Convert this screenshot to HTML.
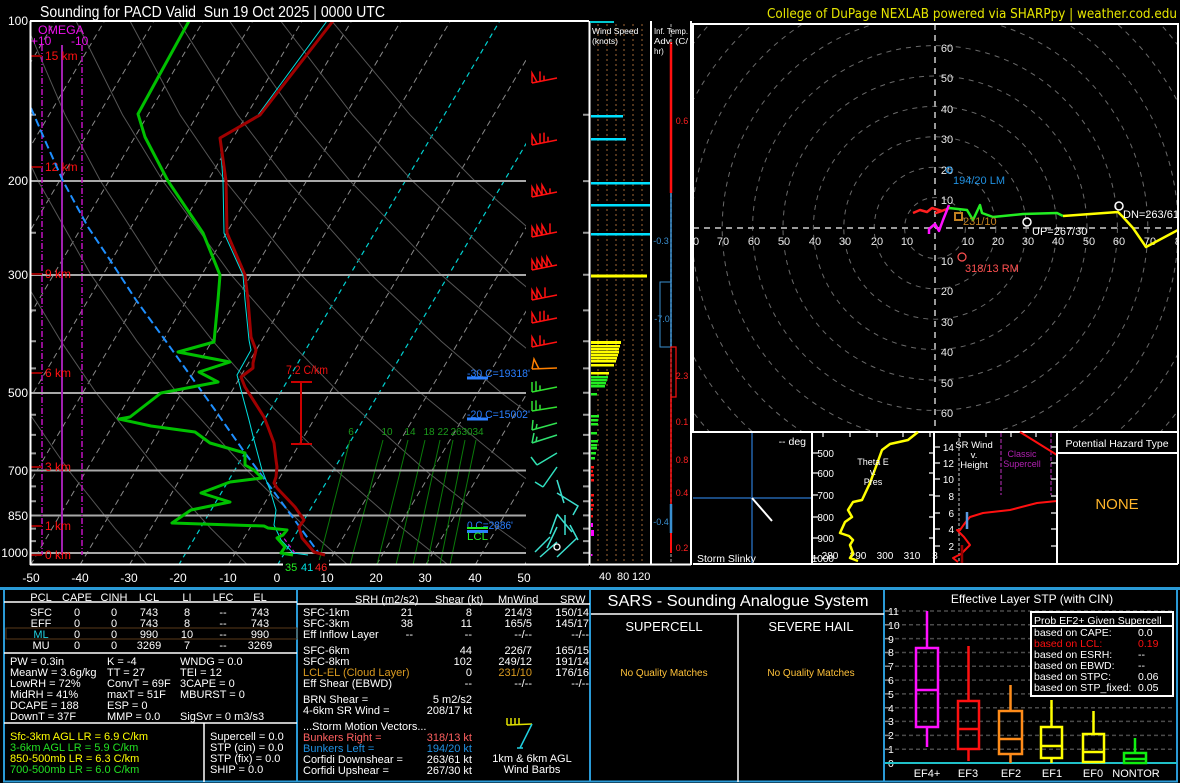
<!DOCTYPE html>
<html><head><meta charset="utf-8"><style>
html,body{margin:0;padding:0;background:#000;}
svg{display:block;font-family:"Liberation Sans",Arial,sans-serif;}
.pre{white-space:pre;}
</style></head><body>
<svg width="1180" height="783" viewBox="0 0 1180 783" xmlns="http://www.w3.org/2000/svg">
<rect width="1180" height="783" fill="#000"/>
<defs>
<clipPath id="sk"><rect x="30" y="21" width="496" height="544"/></clipPath>
<clipPath id="sk2"><rect x="30" y="21" width="559" height="544"/></clipPath>
<clipPath id="hd"><rect x="693" y="24" width="485" height="408"/></clipPath>
</defs>

<!-- Titles -->
<text x="40" y="17" fill="#fff" font-size="16" textLength="345" lengthAdjust="spacingAndGlyphs" class="pre">Sounding for PACD Valid  Sun 19 Oct 2025 | 0000 UTC</text>
<text x="767" y="18" fill="#e6e600" font-size="13" textLength="410" lengthAdjust="spacingAndGlyphs" font-family="DejaVu Sans, Liberation Sans, sans-serif">College of DuPage NEXLAB powered via SHARPpy | weather.cod.edu</text>

<!-- ============ SKEW-T background ============ -->
<g clip-path="url(#sk)">
 <g stroke="#8a8a8a" stroke-width="1" stroke-dasharray="6,4" fill="none">
  <line x1="-265.9" y1="565" x2="55.1" y2="21"/>
  <line x1="-216.5" y1="565" x2="104.5" y2="21"/>
  <line x1="-167.1" y1="565" x2="153.9" y2="21"/>
  <line x1="-117.7" y1="565" x2="203.3" y2="21"/>
  <line x1="-68.3" y1="565" x2="252.7" y2="21"/>
  <line x1="-18.9" y1="565" x2="302.1" y2="21"/>
  <line x1="30.5" y1="565" x2="351.5" y2="21"/>
  <line x1="79.9" y1="565" x2="400.9" y2="21"/>
  <line x1="129.3" y1="565" x2="450.3" y2="21"/>
  <line x1="228.1" y1="565" x2="549.1" y2="21"/>
  <line x1="326.9" y1="565" x2="647.9" y2="21"/>
  <line x1="376.3" y1="565" x2="697.3" y2="21"/>
  <line x1="425.7" y1="565" x2="746.7" y2="21"/>
  <line x1="475.1" y1="565" x2="796.1" y2="21"/>
  <line x1="524.5" y1="565" x2="845.5" y2="21"/>
 </g>
 <g stroke="#00d0d0" stroke-width="1.2" stroke-dasharray="5,4" fill="none">
  <line x1="178.7" y1="565" x2="499.7" y2="21"/>
  <line x1="277.5" y1="565" x2="598.5" y2="21"/>
 </g>
 <!-- dry adiabats every 20C -->
 <g stroke="#555" stroke-width="1" fill="none">
  <polyline points="146.6,564.2 115.1,528.6 68.7,470.5 15,392.8 -15.2,341.2"/>
  <polyline points="246.8,564.2 211,528.6 157.9,470.5 96.1,392.8 60.9,341.2 20.9,274.8 -24.2,181.1"/>
  <polyline points="347,564.2 306.9,528.6 247.2,470.5 177.1,392.8 137,341.2 91,274.8 38.2,181.1 7.5,114.7 -26.4,21"/>
  <polyline points="447.2,564.2 402.8,528.6 336.4,470.5 258.2,392.8 213,341.2 161,274.8 100.6,181.1 65,114.7 24.8,21"/>
  <polyline points="547.4,564.2 498.6,528.6 425.6,470.5 339.2,392.8 289.1,341.2 231.1,274.8 163,181.1 122.5,114.7 76,21"/>
  <polyline points="647.6,564.2 594.5,528.6 514.8,470.5 420.3,392.8 365.1,341.2 301.1,274.8 225.4,181.1 180,114.7 130,21"/>
  <polyline points="747.8,564.2 690.4,528.6 604,470.5 501.3,392.8 441.2,341.2 371.2,274.8 287.8,181.1 237.5,114.7 178.3,21"/>
  <polyline points="848,564.2 786.3,528.6 693.2,470.5 582.3,392.8 517.3,341.2 441.2,274.8 350.2,181.1 294.9,114.7 229.5,21"/>
  <polyline points="948.2,564.2 882.1,528.6 782.4,470.5 663.4,392.8 593.3,341.2 511.3,274.8 412.6,181.1 352.4,114.7 280.7,21"/>
  <polyline points="1048.4,564.2 978,528.6 871.6,470.5 744.4,392.8 669.4,341.2 581.3,274.8 475,181.1 409.9,114.7 331.8,21"/>
 </g>
 <!-- mixing ratio -->
 <g stroke="#0a7a0a" stroke-width="1" fill="none">
  <line x1="318" y1="565" x2="350" y2="440"/>
  <line x1="350" y1="565" x2="383" y2="440"/>
  <line x1="377" y1="565" x2="408" y2="440"/>
  <line x1="396" y1="565" x2="425" y2="440"/>
  <line x1="413" y1="565" x2="440" y2="440"/>
  <line x1="427" y1="565" x2="453" y2="440"/>
  <line x1="440" y1="565" x2="465" y2="440"/>
  <line x1="450" y1="565" x2="476" y2="440"/>
 </g>
 <g fill="#1a9a1a" font-size="10" text-anchor="middle">
  <text x="351" y="435">6</text><text x="387" y="435">10</text><text x="410" y="435">14</text><text x="429" y="435">18</text>
  <text x="443" y="435">22</text><text x="456" y="435">26</text><text x="467" y="435">30</text><text x="478" y="435">34</text>
 </g>
 <!-- pressure lines -->
 <g stroke="#a8a8a8" stroke-width="2">
  <line x1="30" y1="181" x2="526" y2="181"/>
  <line x1="30" y1="275" x2="526" y2="275"/>
  <line x1="30" y1="393" x2="526" y2="393"/>
  <line x1="30" y1="470.5" x2="526" y2="470.5"/>
  <line x1="30" y1="515.5" x2="526" y2="515.5"/>
  <line x1="30" y1="553" x2="526" y2="553"/>
 </g>
</g>

<!-- ticks on skew-T sides -->
<g stroke="#999" stroke-width="2">
 <path d="M31,114.7h5M31,232.7h5M31,310.4h5M31,341.2h5M31,368.4h5M31,414.8h5M31,434.9h5M31,453.4h5M31,486.4h5M31,501.3h5M31,528.6h5M31,541.1h5"/>
 <path d="M583,114.7h6M583,181.1h6M583,232.7h6M583,274.8h6M583,310.4h6M583,341.2h6M583,368.4h6M583,392.8h6M583,414.8h6M583,434.9h6M583,453.4h6M583,470.5h6M583,486.4h6M583,501.3h6M583,515.4h6M583,528.6h6M583,541.1h6M583,552.9h6"/>
</g>

<!-- OMEGA -->
<g>
 <line x1="62" y1="45" x2="62" y2="555" stroke="#a020b0" stroke-width="2"/>
 <line x1="42" y1="45" x2="42" y2="555" stroke="#c010c0" stroke-width="1.5" stroke-dasharray="6,2,1,2"/>
 <line x1="82" y1="45" x2="82" y2="555" stroke="#c010c0" stroke-width="1.5" stroke-dasharray="6,2,1,2"/>
 <text x="38" y="34" fill="#ee10ee" font-size="12" textLength="46" lengthAdjust="spacingAndGlyphs">OMEGA</text>
 <text x="31" y="45" fill="#ee10ee" font-size="12">+10</text>
 <text x="71" y="45" fill="#ee10ee" font-size="12">-10</text>
</g>

<!-- height labels -->
<g stroke="#990000" stroke-width="2">
 <path d="M31,56h11M31,167h11M31,274h11M31,373h11M31,467h11M31,526h11M31,555h11"/>
</g>
<g fill="#ff1010" font-size="12">
 <text x="45" y="60">15 km</text><text x="45" y="171">12 km</text><text x="45" y="278">9 km</text>
 <text x="45" y="377">6 km</text><text x="45" y="471">3 km</text><text x="45" y="530">1 km</text><text x="45" y="559">0 km</text>
</g>

<!-- profiles -->
<g clip-path="url(#sk2)" fill="none" stroke-linejoin="round">
 <polyline stroke="#1e8fff" stroke-width="2" stroke-dasharray="8,4" points="31,108 47,145 63,181 88,227 112,263 136,300 165,340 190,375 215,410 245,453 280,500 318,552"/>
 <polyline stroke="#dd10dd" stroke-width="1.2" stroke-dasharray="4,3" points="280,533 295,553"/>
 <polyline stroke="#00e0e0" stroke-width="1" points="327,21 258,115 220,138 223,181 224,233 243,275 245,300 249,340 251,350 237,375 241,390 249,420 254,440 262,470 270,490 276,510 274,525 281,540 293,553 308,555"/>
 <polyline stroke="#00c000" stroke-width="3" points="189,21 138,114 145,137 168,181 203,233 220,275 218,300 214,342 178,352 230,362 199,372 218,382 161,393 130,417 119,419 151,426 195,432 210,443 245,453 245,465 254,470 262,478 230,482 201,493 230,502 191,510 172,523 264,526 268,528 287,530 283,535 277,538 285,547 281,553 293,555"/>
 <polyline stroke="#a00000" stroke-width="3" points="333,21 260,115 220,138 226,181 227,233 245,275 248,300 251,337 256,350 253,363 253,368 241,377 245,387 264,417 268,427 274,443 276,460 277,467 276,477 274,483 277,488 295,507 304,520 299,527 302,538 314,552 325,555"/>
</g>

<!-- lapse rate -->
<g stroke="#cc0000" stroke-width="2">
 <line x1="301" y1="382" x2="301" y2="444"/>
 <line x1="291" y1="382" x2="312" y2="382"/>
 <line x1="291" y1="444" x2="312" y2="444"/>
</g>
<text x="286" y="374" fill="#ee1010" font-size="12" textLength="42" lengthAdjust="spacingAndGlyphs">7.2 C/km</text>

<!-- freezing level labels -->
<g fill="#2a7fff" font-size="11">
 <text x="467" y="377" textLength="63" lengthAdjust="spacingAndGlyphs">-30 C=19318'</text>
 <text x="467" y="418" textLength="63" lengthAdjust="spacingAndGlyphs">-20 C=15002'</text>
 <text x="467" y="529" textLength="46" lengthAdjust="spacingAndGlyphs">0 C=2886'</text>
</g>
<g stroke-width="3">
 <line x1="467" y1="378" x2="488" y2="378" stroke="#2a7fff"/>
 <line x1="467" y1="419" x2="488" y2="419" stroke="#2a7fff"/>
 <line x1="467" y1="528" x2="488" y2="528" stroke="#22ee22" stroke-width="2"/>
 <line x1="467" y1="531.5" x2="488" y2="531.5" stroke="#2a7fff"/>
</g>
<text x="467" y="540" fill="#22ee22" font-size="11" textLength="21" lengthAdjust="spacingAndGlyphs">LCL</text>

<!-- wind barbs skew-T -->
<g fill="none" stroke-width="1.5" stroke-linejoin="miter">
 <path stroke="#ff1010" d="M557,78L532,83 M532,83L532,73L537,82 M540,81.4L540,71.4 M544,80.6L544,75.6"/>
 <path stroke="#ff1010" d="M557,140L532,145 M532,145L532,135L537,144 M540,143.4L540,133.4 M544,142.6L544,132.6 M548,141.8L548,136.8"/>
 <path stroke="#ff1010" d="M557,192L532,197 M532,197L532,187L537,196 M537,196L537,186L542,195 M542,195L542,185L547,194 M550,193.4L550,188.4"/>
 <path stroke="#ff1010" d="M557,232L532,237 M532,237L532,227L537,236 M537,236L537,226L542,235 M542,235L542,225L547,234 M550,233.4L550,223.4"/>
 <path stroke="#ff1010" d="M557,265L532,270 M532,270L532,260L537,269 M537,269L537,259L542,268 M542,268L542,258L547,267 M547,267L547,257L552,266"/>
 <path stroke="#ff1010" d="M557,295L532,300 M532,300L532,290L537,299 M537,299L537,289L542,298 M545,297.4L545,287.4"/>
 <path stroke="#ff1010" d="M557,318L532,323 M532,323L532,313L537,322 M540,321.4L540,311.4 M544,320.6L544,310.6 M548,319.8L548,314.8"/>
 <path stroke="#ff1010" d="M557,342L532,347 M532,347L532,337L537,346 M540,345.4L540,335.4 M544,344.6L544,339.6"/>
 <path stroke="#ff8000" d="M557,368L532,369 M532,369L534,359L539,369"/>
 <path stroke="#30e030" d="M557,387L532,392 M532,392L532,382 M536,391.2L536,381.2 M540,390.4L540,385.4"/>
 <path stroke="#30e030" d="M557,407L532,411 M532,411L532,401 M536,410.4L536,400.4 M540,409.7L540,404.7"/>
 <path stroke="#30e050" d="M557,423L532,430 M532,430L533,420 M536,429L537,424"/>
 <path stroke="#30e070" d="M557,435L532,443 M532,443L534,433 M536,441.7L537,436.7"/>
 <path stroke="#30e0b0" d="M557,453L537,465 M537,465L531,457"/>
 <path stroke="#30e0c0" d="M557,467L543,487 M543,487L535,482"/>
 <path stroke="#3ce0d0" d="M557,480L564,503 M557,493L578,506L573,515 M557,514L572,532 M557,515L550,534 M565,515L565,535 M557,527L547,548 M577,538L557,557 M550,537L535,552 M557,542L540,557 M570,525L578,540"/>
</g>
<circle cx="557" cy="547" r="3" fill="none" stroke="#fff" stroke-width="1.3"/>

<!-- skew-T border -->
<g stroke="#fff" stroke-width="2" fill="none">
 <line x1="30" y1="21" x2="589" y2="21"/>
 <line x1="30.5" y1="21" x2="30.5" y2="565"/>
 <line x1="30" y1="564.5" x2="589" y2="564.5"/>
 <line x1="589.5" y1="21" x2="589.5" y2="565"/>
</g>
<!-- pressure labels -->
<g fill="#fff" font-size="12" text-anchor="end">
 <text x="28" y="25">100</text><text x="28" y="185">200</text><text x="28" y="279">300</text>
 <text x="28" y="397">500</text><text x="28" y="475">700</text><text x="28" y="520">850</text><text x="28" y="557">1000</text>
</g>
<!-- temperature labels -->
<g fill="#fff" font-size="12" text-anchor="middle">
 <text x="31" y="582">-50</text><text x="80" y="582">-40</text><text x="129" y="582">-30</text><text x="178" y="582">-20</text>
 <text x="228" y="582">-10</text><text x="277" y="582">0</text><text x="327" y="582">10</text><text x="376" y="582">20</text>
 <text x="425" y="582">30</text><text x="475" y="582">40</text><text x="524" y="582">50</text>
</g>
<rect x="283" y="560" width="46" height="12" fill="#000"/>
<text x="285" y="571" fill="#22ee22" font-size="11">35</text>
<text x="301" y="571" fill="#00e0e0" font-size="11">41</text>
<text x="315" y="571" fill="#ff2020" font-size="11">46</text>

<!-- ============ Wind speed panel ============ -->
<g stroke="#6b4423" stroke-width="1.5" stroke-dasharray="2,3">
 <line x1="598" y1="24" x2="598" y2="563"/><line x1="607" y1="24" x2="607" y2="563"/>
 <line x1="616" y1="24" x2="616" y2="563"/><line x1="624" y1="24" x2="624" y2="563"/>
 <line x1="633" y1="24" x2="633" y2="563"/><line x1="642" y1="24" x2="642" y2="563"/>
</g>
<line x1="590" y1="22" x2="614" y2="22" stroke="#00c8d0" stroke-width="2"/>
<text x="592" y="34" fill="#fff" font-size="8.5">Wind Speed</text>
<text x="592" y="44" fill="#fff" font-size="8.5">(knots)</text>
<g>
 <rect x="591" y="115" width="32" height="2.5" fill="#00e0ff"/>
 <rect x="591" y="138" width="35" height="2.5" fill="#00e0ff"/>
 <rect x="591" y="182" width="60" height="2.5" fill="#00e0ff"/>
 <rect x="591" y="204" width="60" height="2.5" fill="#00e0ff"/>
 <rect x="591" y="233" width="60" height="2.5" fill="#00e0ff"/>
 <rect x="591" y="274.5" width="56" height="3" fill="#ffff00"/>
 <g fill="#ffff00">
  <rect x="591" y="341" width="30" height="3"/><rect x="591" y="345" width="29" height="2.5"/>
  <rect x="591" y="348" width="28" height="2.5"/><rect x="591" y="351" width="28" height="2.5"/>
  <rect x="591" y="354" width="27" height="2.5"/><rect x="591" y="357" width="26" height="2.5"/>
  <rect x="591" y="360" width="25" height="2.5"/><rect x="591" y="364" width="23" height="2.5"/>
  <rect x="591" y="372" width="18" height="2.5"/>
 </g>
 <g fill="#22ee22">
  <rect x="591" y="376" width="17" height="2.5"/><rect x="591" y="379" width="16" height="2.5"/>
  <rect x="591" y="382" width="15" height="2.5"/><rect x="591" y="385" width="14" height="2.5"/>
  <rect x="591" y="393" width="6" height="2.5"/>
  <rect x="591" y="415" width="8" height="2.5"/><rect x="591" y="419" width="7" height="2.5"/>
  <rect x="591" y="423" width="7" height="2.5"/><rect x="591" y="432" width="6" height="2.5"/>
  <rect x="591" y="440" width="7" height="2.5"/><rect x="591" y="444" width="6" height="2.5"/>
  <rect x="591" y="447" width="6" height="2.5"/><rect x="591" y="452" width="5" height="2.5"/>
  <rect x="591" y="457" width="4" height="2.5"/>
 </g>
 <g fill="#ff1010">
  <rect x="591" y="466" width="3" height="2.5"/><rect x="591" y="470" width="2" height="2.5"/>
  <rect x="591" y="474" width="3" height="2.5"/><rect x="591" y="479" width="3" height="2.5"/>
  <rect x="591" y="494" width="3" height="2.5"/><rect x="591" y="499" width="2" height="2.5"/>
  <rect x="591" y="504" width="3" height="2.5"/><rect x="591" y="508" width="2" height="2.5"/>
  <rect x="591" y="515" width="2" height="2.5"/>
 </g>
 <rect x="591" y="523" width="2" height="4" fill="#ff00ff"/>
 <rect x="591" y="530" width="3" height="6" fill="#ff00ff"/>
 <rect x="591" y="554" width="1.5" height="2" fill="#ff00ff"/>
</g>
<g fill="#fff" font-size="11">
 <text x="599" y="580">40</text><text x="617" y="580">80</text><text x="632" y="580">120</text>
</g>

<!-- ============ Inf temp adv ============ -->
<line x1="671" y1="24" x2="671" y2="564" stroke="#777" stroke-width="1.5" stroke-dasharray="3,2"/>
<line x1="671" y1="42" x2="671" y2="193" stroke="#ff1010" stroke-width="2.5"/>
<line x1="671" y1="193" x2="671" y2="347" stroke="#3a8fd0" stroke-width="1.5"/>
<rect x="660" y="282" width="11" height="65" fill="none" stroke="#3a8fd0" stroke-width="1"/>
<rect x="671" y="347" width="5" height="50" fill="none" stroke="#ff1010" stroke-width="1.2"/>
<line x1="671" y1="397" x2="671" y2="504" stroke="#ff1010" stroke-width="1.5"/>
<line x1="671" y1="504" x2="671" y2="533" stroke="#3a8fd0" stroke-width="2.5"/>
<line x1="671" y1="533" x2="671" y2="553" stroke="#ff1010" stroke-width="2"/>
<text x="654" y="34" fill="#fff" font-size="8" textLength="34" lengthAdjust="spacingAndGlyphs">Inf. Temp.</text>
<text x="654" y="44" fill="#fff" font-size="8" textLength="34" lengthAdjust="spacingAndGlyphs">Adv. (C/</text>
<text x="654" y="54" fill="#fff" font-size="8">hr)</text>
<g font-size="9" text-anchor="middle">
 <text x="682" y="124" fill="#ff2020">0.6</text>
 <text x="661" y="244" fill="#3a8fd0">-0.3</text>
 <text x="662" y="322" fill="#3a8fd0">-7.0</text>
 <text x="682" y="379" fill="#ff2020">2.3</text>
 <text x="682" y="425" fill="#ff2020">0.1</text>
 <text x="682" y="463" fill="#ff2020">0.8</text>
 <text x="682" y="496" fill="#ff2020">0.4</text>
 <text x="661" y="525" fill="#3a8fd0">-0.4</text>
 <text x="682" y="551" fill="#ff2020">0.2</text>
</g>
<g stroke="#fff" stroke-width="2">
 <line x1="651" y1="21" x2="651" y2="565"/>
 <line x1="691" y1="21" x2="691" y2="565"/>
 <line x1="590" y1="564.5" x2="691" y2="564.5"/>
</g>

<!-- ============ Hodograph ============ -->
<g clip-path="url(#hd)">
 <g fill="none" stroke="#6a6a6a" stroke-width="1" stroke-dasharray="5,5">
  <circle cx="935" cy="228" r="30.4"/><circle cx="935" cy="228" r="60.8"/><circle cx="935" cy="228" r="91.2"/>
  <circle cx="935" cy="228" r="121.6"/><circle cx="935" cy="228" r="152"/><circle cx="935" cy="228" r="182.4"/>
  <circle cx="935" cy="228" r="212.8"/><circle cx="935" cy="228" r="243.2"/><circle cx="935" cy="228" r="273.6"/>
  <circle cx="935" cy="228" r="304"/><circle cx="935" cy="228" r="334.4"/>
 </g>
 <g stroke="#9a9a9a" stroke-width="2" stroke-dasharray="6,5">
  <line x1="935" y1="24" x2="935" y2="432"/>
  <line x1="693" y1="228" x2="1178" y2="228"/>
 </g>
 <g fill="#e8e8e8" font-size="11" text-anchor="middle">
  <text x="947" y="52">60</text><text x="947" y="82">50</text><text x="947" y="113">40</text>
  <text x="947" y="143">30</text><text x="947" y="174">20</text><text x="947" y="204">10</text>
  <text x="947" y="265">10</text><text x="947" y="295">20</text><text x="947" y="326">30</text>
  <text x="947" y="356">40</text><text x="947" y="387">50</text><text x="947" y="417">60</text>
  <text x="693" y="245">80</text><text x="723" y="245">70</text><text x="754" y="245">60</text><text x="784" y="245">50</text>
  <text x="815" y="245">40</text><text x="845" y="245">30</text><text x="877" y="245">20</text><text x="907" y="245">10</text>
  <text x="968" y="245">10</text><text x="998" y="245">20</text><text x="1028" y="245">30</text><text x="1058" y="245">40</text>
  <text x="1089" y="245">50</text><text x="1119" y="245">60</text><text x="1150" y="245">70</text><text x="1181" y="245">80</text>
 </g>
 <g fill="none" stroke-width="2.5" stroke-linejoin="round">
  <polyline stroke="#ff2020" points="913,213 920,210 927,212 932,208 942,211 936,213 950,208"/>
  <polyline stroke="#ff10ff" points="949,205 943,220 939,231 935,224 929,229 929,234"/>
  <polyline stroke="#22ee22" points="949,208 967,210 973,220 980,205 982,213 993,217 1023,214 1057,213 1063,216"/>
  <polyline stroke="#ffff00" points="1063,216 1118,212 1123,217 1133,228 1146,247 1178,230"/>
 </g>
 <circle cx="1119" cy="206" r="4" fill="none" stroke="#fff" stroke-width="1.5"/>
 <circle cx="1027" cy="222" r="4" fill="none" stroke="#fff" stroke-width="1.5"/>
 <circle cx="949" cy="170" r="3" fill="none" stroke="#2090e0" stroke-width="1.2"/>
 <circle cx="962" cy="257" r="4" fill="none" stroke="#ff5050" stroke-width="1.2"/>
 <rect x="955" y="213" width="7" height="7" fill="none" stroke="#c08020" stroke-width="2"/>
 <g font-size="11">
  <text x="1123" y="218" fill="#fff">DN=263/61</text>
  <text x="1032" y="235" fill="#fff">UP=267/30</text>
  <text x="963" y="225" fill="#c08020">231/10</text>
  <text x="953" y="184" fill="#2090e0">194/20 LM</text>
  <text x="965" y="272" fill="#ff5050">318/13 RM</text>
 </g>
</g>
<rect x="693" y="24" width="485" height="408" fill="none" stroke="#fff" stroke-width="2"/>

<!-- ============ small panels ============ -->
<!-- storm slinky -->
<line x1="752" y1="433" x2="752" y2="563" stroke="#1a4a80" stroke-width="2"/>
<line x1="693" y1="498" x2="812" y2="498" stroke="#1a4a80" stroke-width="2"/>
<line x1="752" y1="498" x2="772" y2="521" stroke="#fff" stroke-width="2"/>
<text x="806" y="445" fill="#fff" font-size="10.5" text-anchor="end">-- deg</text>
<text x="697" y="562" fill="#fff" font-size="10.5">Storm Slinky</text>

<!-- theta-e -->
<g stroke="#999" stroke-width="2">
 <path d="M813,453h5M813,473h5M813,495h5M813,517h5M813,538h5M813,558h5"/>
 <path d="M929,453h5M929,473h5M929,495h5M929,517h5M929,538h5"/>
 <path d="M823,433v4M850,433v4M877,433v4M903,433v4M930,433v4"/>
</g>
<g fill="#fff" font-size="10" text-anchor="end">
 <text x="834" y="457">500</text><text x="834" y="477">600</text><text x="834" y="499">700</text>
 <text x="834" y="521">800</text><text x="834" y="542">900</text><text x="834" y="562">1000</text>
</g>
<g fill="#fff" font-size="10" text-anchor="middle">
 <text x="830" y="559">280</text><text x="858" y="559">290</text><text x="885" y="559">300</text><text x="912" y="559">310</text><text x="935" y="559">3</text>
</g>
<polyline fill="none" stroke="#ffff00" stroke-width="2.5" stroke-linejoin="round" points="918,432 908,440 890,444 882,450 870,483 862,500 853,502 848,510 852,517 845,522 840,533 849,536 853,540 850,545 853,553 850,558 858,561"/>
<g fill="#fff" font-size="9" text-anchor="middle">
 <text x="873" y="465">Theta E</text><text x="873" y="475">v.</text><text x="873" y="485">Pres</text>
</g>

<!-- SR wind -->
<line x1="959" y1="433" x2="959" y2="563" stroke="#888" stroke-width="1.5" stroke-dasharray="3,2"/>
<line x1="1001" y1="433" x2="1001" y2="495" stroke="#802080" stroke-width="1.5" stroke-dasharray="4,2"/>
<line x1="1051" y1="433" x2="1051" y2="495" stroke="#802080" stroke-width="1.5" stroke-dasharray="4,2"/>
<g stroke="#999" stroke-width="2">
 <path d="M935,447h5M935,463h5M935,479h5M935,496h5M935,513h5M935,529h5M935,546h5"/>
 <path d="M1051,447h6M1051,463h6M1051,479h6M1051,496h6M1051,513h6M1051,529h6M1051,546h6"/>
 <path d="M960,433v4M986,433v4M1011,433v4M1036,433v4"/>
</g>
<g fill="#fff" font-size="10" text-anchor="end">
 <text x="954" y="451">14</text><text x="954" y="467">12</text><text x="954" y="483">10</text>
 <text x="954" y="500">8</text><text x="954" y="517">6</text><text x="954" y="533">4</text><text x="954" y="550">2</text>
</g>
<g fill="#fff" font-size="9.5" text-anchor="middle">
 <text x="974" y="448">SR Wind</text><text x="974" y="458">v.</text><text x="974" y="468">Height</text>
</g>
<g fill="#b020b0" font-size="9" text-anchor="middle">
 <text x="1022" y="457">Classic</text><text x="1022" y="467">Supercell</text>
</g>
<line x1="1020" y1="432" x2="1057" y2="455" stroke="#ff1010" stroke-width="2"/>
<polyline fill="none" stroke="#ff1010" stroke-width="2" stroke-linejoin="round" points="1057,501 1037,503 1010,510 983,513 970,517 965,523 960,530 957,530 964,537 970,545 965,550 961,554 953,558 958,562"/>
<line x1="967" y1="512" x2="967" y2="529" stroke="#5a9ae0" stroke-width="2.5"/>
<line x1="962" y1="545" x2="962" y2="564" stroke="#990000" stroke-width="2.5"/>

<!-- hazard -->
<text x="1117" y="447" fill="#fff" font-size="10.5" text-anchor="middle">Potential Hazard Type</text>
<line x1="1058" y1="453" x2="1178" y2="453" stroke="#fff" stroke-width="2"/>
<text x="1117" y="509" fill="#ffb52a" font-size="15" text-anchor="middle">NONE</text>

<g stroke="#fff" stroke-width="2" fill="none">
 <line x1="693" y1="564" x2="1178" y2="564"/>
 <line x1="812" y1="432" x2="812" y2="564"/>
 <line x1="934" y1="432" x2="934" y2="564"/>
 <line x1="1057" y1="432" x2="1057" y2="564"/>
 <line x1="1178" y1="432" x2="1178" y2="564"/>
</g>

<!-- ============ bottom panels ============ -->
<g stroke="#2a9ad6" fill="none">
 <line x1="0" y1="588.5" x2="1180" y2="588.5" stroke-width="3"/>
 <line x1="4" y1="588" x2="4" y2="782" stroke-width="2"/>
 <line x1="297" y1="588" x2="297" y2="782" stroke-width="2"/>
 <line x1="590" y1="588" x2="590" y2="782" stroke-width="2"/>
 <line x1="884" y1="588" x2="884" y2="782" stroke-width="2"/>
 <line x1="1177" y1="588" x2="1177" y2="782" stroke-width="2"/>
 <line x1="3" y1="781.5" x2="1178" y2="781.5" stroke-width="2"/>
</g>

<!-- left table -->
<g fill="#fff" font-size="11" text-anchor="middle">
 <text x="41" y="601">PCL</text><text x="77" y="601">CAPE</text><text x="114" y="601">CINH</text><text x="149" y="601">LCL</text>
 <text x="187" y="601">LI</text><text x="223" y="601">LFC</text><text x="260" y="601">EL</text>
 <text x="41" y="616">SFC</text><text x="77" y="616">0</text><text x="114" y="616">0</text><text x="149" y="616">743</text><text x="187" y="616">8</text><text x="223" y="616">--</text><text x="260" y="616">743</text>
 <text x="41" y="627">EFF</text><text x="77" y="627">0</text><text x="114" y="627">0</text><text x="149" y="627">743</text><text x="187" y="627">8</text><text x="223" y="627">--</text><text x="260" y="627">743</text>
 <text x="41" y="638" fill="#20d0e0">ML</text><text x="77" y="638">0</text><text x="114" y="638">0</text><text x="149" y="638">990</text><text x="187" y="638">10</text><text x="223" y="638">--</text><text x="260" y="638">990</text>
 <text x="41" y="649">MU</text><text x="77" y="649">0</text><text x="114" y="649">0</text><text x="149" y="649">3269</text><text x="187" y="649">7</text><text x="223" y="649">--</text><text x="260" y="649">3269</text>
</g>
<rect x="6" y="628" width="291" height="11" fill="none" stroke="#5a3a1a" stroke-width="1"/>
<g stroke="#fff" stroke-width="1.5">
 <line x1="4" y1="602" x2="297" y2="602"/>
 <line x1="4" y1="653" x2="297" y2="653"/>
 <line x1="4" y1="723" x2="297" y2="723"/>
 <line x1="204" y1="723" x2="204" y2="782"/>
</g>
<g fill="#fff" font-size="11">
 <text x="10" y="665">PW = 0.3in</text><text x="10" y="676">MeanW = 3.6g/kg</text><text x="10" y="687">LowRH = 72%</text>
 <text x="10" y="698">MidRH = 41%</text><text x="10" y="709">DCAPE = 188</text><text x="10" y="720">DownT = 37F</text>
 <text x="107" y="665">K = -4</text><text x="107" y="676">TT = 27</text><text x="107" y="687">ConvT = 69F</text>
 <text x="107" y="698">maxT = 51F</text><text x="107" y="709">ESP = 0</text><text x="107" y="720">MMP = 0.0</text>
 <text x="180" y="665">WNDG = 0.0</text><text x="180" y="676">TEI = 12</text><text x="180" y="687">3CAPE = 0</text>
 <text x="180" y="698">MBURST = 0</text><text x="180" y="720">SigSvr = 0 m3/s3</text>
 <text x="210" y="740">Supercell = 0.0</text><text x="210" y="751">STP (cin) = 0.0</text>
 <text x="210" y="762">STP (fix) = 0.0</text><text x="210" y="773">SHIP = 0.0</text>
</g>
<g font-size="11">
 <text x="10" y="740" fill="#ffff00">Sfc-3km AGL LR = 6.9 C/km</text>
 <text x="10" y="751" fill="#22e022">3-6km AGL LR = 5.9 C/km</text>
 <text x="10" y="762" fill="#ffff00">850-500mb LR = 6.3 C/km</text>
 <text x="10" y="773" fill="#22e022">700-500mb LR = 6.0 C/km</text>
</g>

<!-- middle table -->
<line x1="297" y1="604" x2="590" y2="604" stroke="#fff" stroke-width="1.5"/>
<g fill="#fff" font-size="11">
 <text x="355" y="603">SRH (m2/s2)</text><text x="435" y="603">Shear (kt)</text><text x="498" y="603">MnWind</text><text x="560" y="603">SRW</text>
 <text x="303" y="616">SFC-1km</text><text x="303" y="627">SFC-3km</text><text x="303" y="638">Eff Inflow Layer</text>
 <text x="303" y="654">SFC-6km</text><text x="303" y="665">SFC-8km</text>
 <text x="303" y="676" fill="#d99a20">LCL-EL (Cloud Layer)</text>
 <text x="303" y="687">Eff Shear (EBWD)</text>
 <text x="303" y="703">BRN Shear =</text><text x="303" y="714">4-6km SR Wind =</text>
 <text x="303" y="730">...Storm Motion Vectors...</text>
 <text x="303" y="741" fill="#ff6060">Bunkers Right =</text>
 <text x="303" y="752" fill="#2090e0">Bunkers Left =</text>
 <text x="303" y="763">Corfidi Downshear =</text>
 <text x="303" y="774">Corfidi Upshear =</text>
</g>
<g fill="#fff" font-size="11" text-anchor="end">
 <text x="413" y="616">21</text><text x="472" y="616">8</text><text x="532" y="616">214/3</text><text x="589" y="616">150/14</text>
 <text x="413" y="627">38</text><text x="472" y="627">11</text><text x="532" y="627">165/5</text><text x="589" y="627">145/17</text>
 <text x="413" y="638">--</text><text x="472" y="638">--</text><text x="532" y="638">--/--</text><text x="589" y="638">--/--</text>
 <text x="472" y="654">44</text><text x="532" y="654">226/7</text><text x="589" y="654">165/15</text>
 <text x="472" y="665">102</text><text x="532" y="665">249/12</text><text x="589" y="665">191/14</text>
 <text x="472" y="676">0</text><text x="532" y="676" fill="#d99a20">231/10</text><text x="589" y="676">176/16</text>
 <text x="472" y="687">--</text><text x="532" y="687">--/--</text><text x="589" y="687">--/--</text>
 <text x="472" y="703">5 m2/s2</text><text x="472" y="714">208/17 kt</text>
 <text x="472" y="741" fill="#ff6060">318/13 kt</text>
 <text x="472" y="752" fill="#2090e0">194/20 kt</text>
 <text x="472" y="763">263/61 kt</text>
 <text x="472" y="774">267/30 kt</text>
</g>
<g fill="none" stroke-width="1.5">
 <path stroke="#e0e000" d="M507,725L532,724 M507,718L507,725 M511,718L511,725 M515,718L515,725 M519,718L519,725"/>
 <path stroke="#20d0e0" d="M532,724L520,748 M517,748L523,748"/>
</g>
<g fill="#fff" font-size="11" text-anchor="middle">
 <text x="532" y="762">1km &amp; 6km AGL</text><text x="532" y="773">Wind Barbs</text>
</g>

<!-- SARS -->
<text x="738" y="606" fill="#fff" font-size="16" text-anchor="middle" textLength="261" lengthAdjust="spacingAndGlyphs">SARS - Sounding Analogue System</text>
<line x1="591" y1="614" x2="884" y2="614" stroke="#fff" stroke-width="1.5"/>
<line x1="738" y1="614" x2="738" y2="782" stroke="#fff" stroke-width="1.5"/>
<text x="664" y="631" fill="#fff" font-size="13" text-anchor="middle">SUPERCELL</text>
<text x="811" y="631" fill="#fff" font-size="13" text-anchor="middle">SEVERE HAIL</text>
<text x="664" y="676" fill="#ffc23a" font-size="10" text-anchor="middle">No Quality Matches</text>
<text x="811" y="676" fill="#ffc23a" font-size="10" text-anchor="middle">No Quality Matches</text>

<!-- STP -->
<text x="1032" y="603" fill="#fff" font-size="12" text-anchor="middle">Effective Layer STP (with CIN)</text>
<g stroke="#4a4a4a" stroke-width="1.5" stroke-dasharray="4,3">
 <path d="M895,611H1175M895,624.8H1175M895,638.6H1175M895,652.5H1175M895,666.3H1175M895,680.1H1175M895,693.9H1175M895,707.7H1175M895,721.4H1175M895,735.4H1175M895,749.2H1175"/>
</g>
<g stroke="#888" stroke-width="1.5">
 <path d="M885,611h5M885,624.8h5M885,638.6h5M885,652.5h5M885,666.3h5M885,680.1h5M885,693.9h5M885,707.7h5M885,721.4h5M885,735.4h5M885,749.2h5"/>
</g>
<g fill="#fff" font-size="10.5">
 <text x="888" y="615">11</text><text x="888" y="629">10</text><text x="888" y="643">9</text><text x="888" y="656">8</text>
 <text x="888" y="670">7</text><text x="888" y="684">6</text><text x="888" y="698">5</text><text x="888" y="712">4</text>
 <text x="888" y="725">3</text><text x="888" y="739">2</text><text x="888" y="753">1</text><text x="888" y="767">0</text>
</g>
<line x1="885" y1="763" x2="1177" y2="763" stroke="#20c0c8" stroke-width="2"/>
<g fill="none" stroke-width="2.5">
 <g stroke="#ff10ff"><rect x="916" y="648" width="22" height="79"/><line x1="916" y1="690" x2="938" y2="690"/><line x1="927" y1="611" x2="927" y2="648"/><line x1="927" y1="727" x2="927" y2="747"/></g>
 <g stroke="#ff1010"><rect x="958" y="701" width="21" height="48"/><line x1="958" y1="729" x2="979" y2="729"/><line x1="968.5" y1="646" x2="968.5" y2="701"/><line x1="968.5" y1="749" x2="968.5" y2="761"/></g>
 <g stroke="#ff8c1a"><rect x="999" y="711" width="23" height="43"/><line x1="999" y1="739" x2="1022" y2="739"/><line x1="1010.5" y1="685" x2="1010.5" y2="711"/><line x1="1010.5" y1="754" x2="1010.5" y2="763"/></g>
 <g stroke="#ffff00"><rect x="1041" y="727" width="21" height="31"/><line x1="1041" y1="746" x2="1062" y2="746"/><line x1="1051.5" y1="700" x2="1051.5" y2="727"/><line x1="1051.5" y1="758" x2="1051.5" y2="763"/></g>
 <g stroke="#ffff00"><rect x="1083" y="734" width="21" height="28"/><line x1="1083" y1="752" x2="1104" y2="752"/><line x1="1093.5" y1="711" x2="1093.5" y2="734"/></g>
 <g stroke="#10ee10"><rect x="1124" y="753" width="22" height="10"/><line x1="1124" y1="759" x2="1146" y2="759"/><line x1="1135" y1="738" x2="1135" y2="753"/></g>
</g>
<g fill="#fff" font-size="11" text-anchor="middle">
 <text x="927" y="777">EF4+</text><text x="968" y="777">EF3</text><text x="1011" y="777">EF2</text>
 <text x="1052" y="777">EF1</text><text x="1093" y="777">EF0</text><text x="1136" y="777">NONTOR</text>
</g>
<rect x="1031" y="612" width="142" height="84" fill="#000" stroke="#fff" stroke-width="2"/>
<line x1="1031" y1="626" x2="1173" y2="626" stroke="#fff" stroke-width="2"/>
<g fill="#fff" font-size="10.5">
 <text x="1034" y="624">Prob EF2+ Given Supercell</text>
 <text x="1034" y="636">based on CAPE:</text><text x="1138" y="636">0.0</text>
 <text x="1034" y="647" fill="#ff1010">based on LCL:</text><text x="1138" y="647" fill="#ff1010">0.19</text>
 <text x="1034" y="658">based on ESRH:</text><text x="1138" y="658">--</text>
 <text x="1034" y="669">based on EBWD:</text><text x="1138" y="669">--</text>
 <text x="1034" y="680">based on STPC:</text><text x="1138" y="680">0.06</text>
 <text x="1034" y="691">based on STP_fixed:</text><text x="1138" y="691">0.05</text>
</g>
</svg>
</body></html>
